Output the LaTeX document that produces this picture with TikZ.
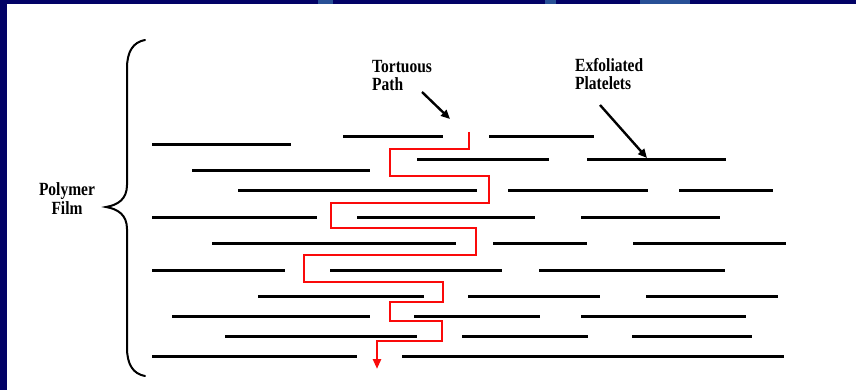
\documentclass[tikz,border=0pt]{standalone}
\usepackage{fontspec}
\setmainfont{Liberation Serif}
\usetikzlibrary{arrows.meta}
\definecolor{navy}{RGB}{2,2,102}
\definecolor{arcblue}{RGB}{40,80,150}
\definecolor{pathred}{RGB}{250,10,10}
\tikzset{
  plate/.style={line width=3pt, black},
  redpath/.style={line width=2.5pt, pathred, line join=miter},
  pointer/.style={line width=2.4pt, black, -{Triangle[length=9pt,width=8pt]}},
  lbl/.style={font=\fontsize{15.5}{15}\selectfont\bfseries, anchor=north west, inner sep=0pt},
}
\newcommand{\tallbox}[2][l]{\scalebox{1}[1.2]{\begin{tabular}{@{}#1@{}}#2\end{tabular}}}
\begin{document}
\begin{tikzpicture}[x=1pt,y=-1pt]
\useasboundingbox (0,0) rectangle (856,390);
\fill[navy] (0,0) rectangle (856,390);
\fill[arcblue] (318,0) rectangle (333,4);
\fill[arcblue] (545,0) rectangle (556,4);
\fill[arcblue] (640,0) rectangle (690,4);
\fill[white] (7,4) rectangle (856,390);
% brace
\draw[line width=2pt, line cap=round] (145,40) .. controls (133,42) and (127,52) .. (127,68)
  -- (127,185) .. controls (127,199) and (118,205) .. (106,207)
  .. controls (118,209) and (127,215) .. (127,229)
  -- (127,348) .. controls (127,364) and (133,374) .. (145,376);
% labels
\node[lbl, anchor=center] (film) at (67,201.4) {\tallbox[c]{Polymer\\Film}};
\node[lbl] (tort) at (372,59.4) {\tallbox{Tortuous\\Path}};
\node[lbl] (exfo) at (575,58.4) {\tallbox{Exfoliated\\Platelets}};
\coordinate (ta) at (422,92);
\coordinate (tb) at (450,119);
\coordinate (ea) at (600,105);
\coordinate (eb) at (647,158);
\draw[pointer] (ta) -- (tb);
\draw[pointer] (ea) -- (eb);
% platelets
\foreach \y/\a/\b in {137/343/443, 137/489/594,
  145/152/291,
  160/417/549, 160/587/726,
  171/192/370,
  191/238/477, 191/508/648, 191/679/773,
  217/152/317, 217/357/535, 217/581/720,
  243/212/456, 243/493/587, 243/633/786,
  270/152/285, 270/330/502, 270/539/725,
  296/258/424, 296/468/600, 296/646/778,
  316/172/370, 316/414/540, 316/581/746,
  336/225/417, 336/462/588, 336/632/752,
  356/152/357, 356/402/784}
  \draw[plate] (\a,\y) -- (\b,\y);
% tortuous path
\draw[redpath, -{Triangle[length=10pt,width=8pt]}]
  (469,132) -- (469,149) -- (390,149) -- (390,176) -- (489,176) -- (489,203)
  -- (331,203) -- (331,228) -- (476,228) -- (476,255) -- (304,255) -- (304,282)
  -- (443,282) -- (443,302) -- (390,302) -- (390,321) -- (442,321) -- (442,341)
  -- (377,341) -- (377,369);
\end{tikzpicture}
\end{document}
